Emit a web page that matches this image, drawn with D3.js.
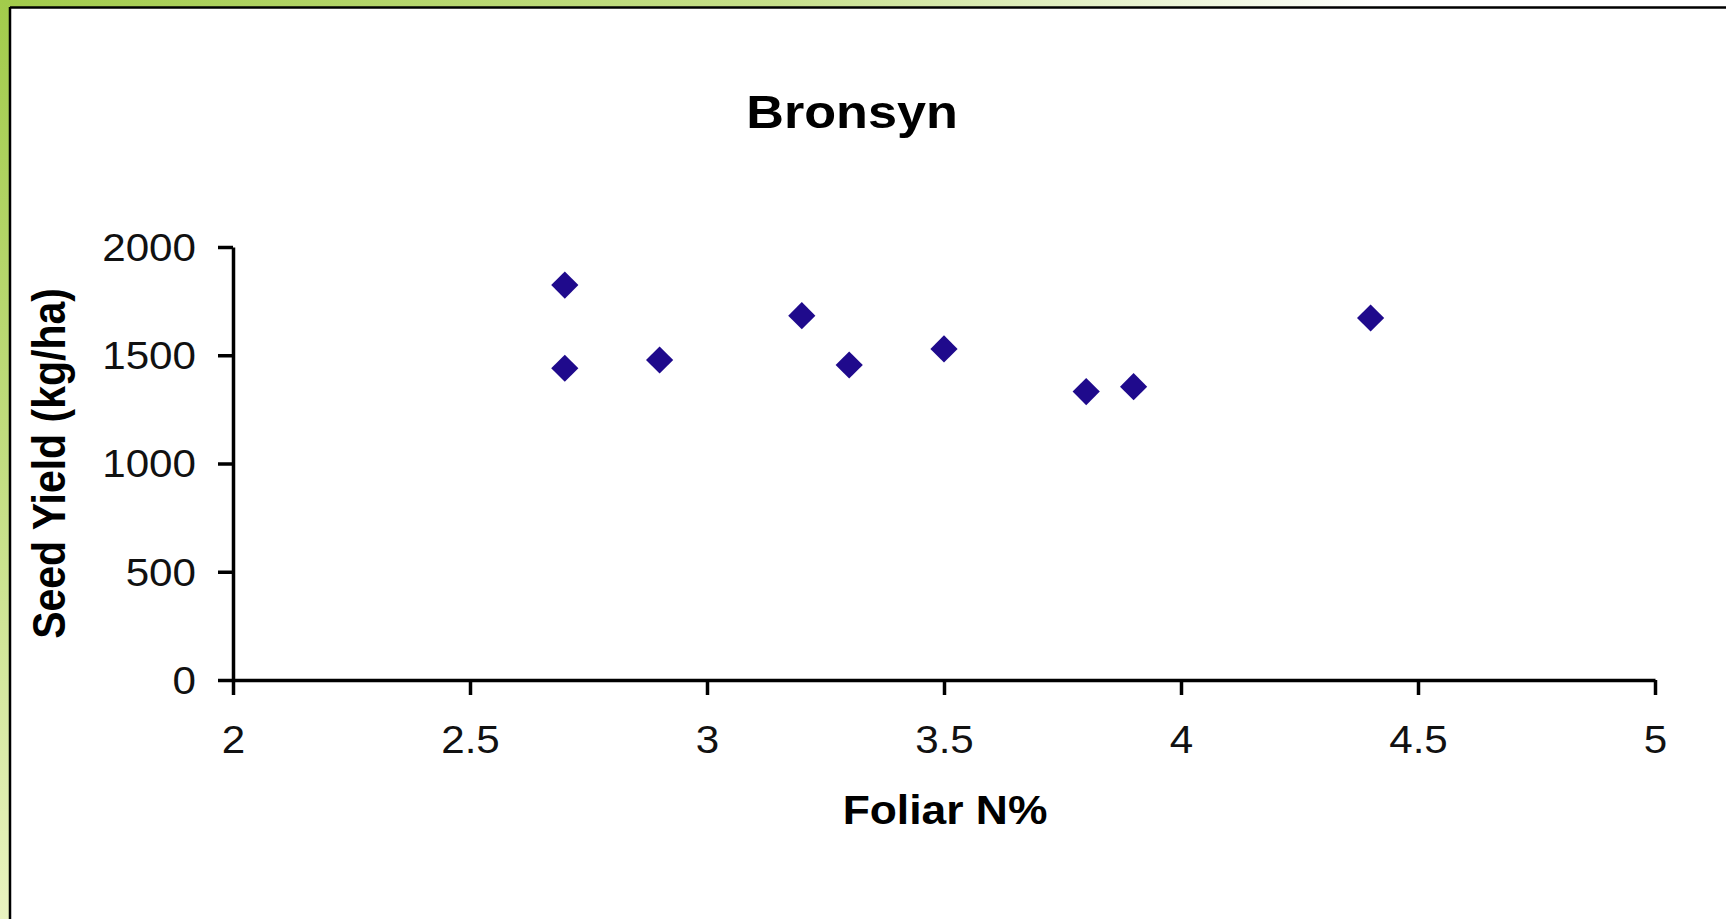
<!DOCTYPE html>
<html>
<head>
<meta charset="utf-8">
<script src="https://cdn.jsdelivr.net/npm/d3@7"></script>
<style>
  html, body { margin: 0; padding: 0; background: #fff; }
  svg text { font-family: "Liberation Sans", Arial, sans-serif; fill: #000; }
</style>
</head>
<body>
<div id="chart"></div>
<script>
// Bronsyn: foliar N% vs seed yield
let foliarN   = [2.7, 2.7, 2.9, 3.2, 3.3, 3.5, 3.8, 3.9, 4.4];
let seedYield = [1824, 1440, 1478, 1683, 1455, 1529, 1332, 1355, 1672];
let xTicks = [2, 2.5, 3, 3.5, 4, 4.5, 5];
let yTicks = [0, 500, 1000, 1500, 2000];

let W = 1726, H = 919;
let plot = {left: 233, right: 1655, top: 247, bottom: 680};
let stretch = 1.11;   // the original picture is a bit wider than tall

let svg = d3.select('#chart').append('svg')
    .attr('width', W)
    .attr('height', H);

let defs = svg.append('defs');
let gTop = defs.append('linearGradient').attr('id', 'topBand')
    .attr('x1', 0).attr('x2', 1).attr('y1', 0).attr('y2', 0);
gTop.append('stop').attr('offset', '0%').attr('stop-color', '#a2cb4b');
gTop.append('stop').attr('offset', '45%').attr('stop-color', '#c6df8a');
gTop.append('stop').attr('offset', '80%').attr('stop-color', '#ffffff');
let gLeft = defs.append('linearGradient').attr('id', 'leftBand')
    .attr('x1', 0).attr('x2', 0).attr('y1', 0).attr('y2', 1);
gLeft.append('stop').attr('offset', '0%').attr('stop-color', '#a2cb4b');
gLeft.append('stop').attr('offset', '50%').attr('stop-color', '#c2dd80');
gLeft.append('stop').attr('offset', '100%').attr('stop-color', '#e9f3c0');

// frame of the slide
svg.append('rect').attr('x', 0).attr('y', 0).attr('width', W).attr('height', 8).style('fill', 'url(#topBand)');
svg.append('rect').attr('x', 0).attr('y', 0).attr('width', 10).attr('height', H).style('fill', 'url(#leftBand)');
svg.append('line').attr('x1', 10).attr('x2', W).attr('y1', 7.5).attr('y2', 7.5)
    .style('stroke', '#000').style('stroke-width', 2.5);
svg.append('line').attr('x1', 10).attr('x2', 10).attr('y1', 7).attr('y2', H)
    .style('stroke', '#000').style('stroke-width', 2.5);

let xScale = d3.scaleLinear().domain([2, 5]).range([plot.left, plot.right]);
let yScale = d3.scaleLinear().domain([0, 2000]).range([plot.bottom, plot.top]);

let xAxis = d3.axisBottom(xScale).tickValues(xTicks).tickSize(15).tickSizeOuter(0)
    .tickPadding(40).tickFormat(d => String(d));
let yAxis = d3.axisLeft(yScale).tickValues(yTicks).tickSize(15).tickSizeOuter(0)
    .tickPadding(22).tickFormat(d => String(d));

let gx = svg.append('g')
    .attr('class', 'x-axis')
    .attr('transform', `translate(0,${plot.bottom})`)
    .call(xAxis);
let gy = svg.append('g')
    .attr('class', 'y-axis')
    .attr('transform', `translate(${plot.left},0)`)
    .call(yAxis);

[gx, gy].forEach(g => {
    g.select('.domain').style('stroke', '#000').style('stroke-width', 3.5);
    g.selectAll('.tick line').style('stroke', '#000').style('stroke-width', 3.5);
    g.selectAll('.tick text')
        .style('font-size', '38px')
        .style('font-family', '"Liberation Sans", Arial, sans-serif')
        .style('fill', '#111');
});
gx.selectAll('.tick text').attr('dy', 0).attr('y', 73)
    .attr('transform', `scale(${stretch},1)`);
gy.selectAll('.tick text').attr('dy', '0.35em').attr('x', -37 / stretch)
    .attr('transform', `scale(${stretch},1)`);

// title and axis titles
svg.append('text')
    .attr('transform', `translate(852,128) scale(${stretch},1)`)
    .attr('text-anchor', 'middle')
    .style('font-size', '47px')
    .style('font-weight', 'bold')
    .text('Bronsyn');

svg.append('text')
    .attr('transform', `translate(945,824) scale(${stretch},1)`)
    .attr('text-anchor', 'middle')
    .style('font-size', '40px')
    .style('font-weight', 'bold')
    .text('Foliar N%');

svg.append('text')
    .attr('transform', `translate(65,${(plot.top + plot.bottom) / 2}) scale(${stretch},1) rotate(-90)`)
    .attr('text-anchor', 'middle')
    .style('font-size', '41px')
    .style('font-weight', 'bold')
    .text('Seed Yield (kg/ha)');

// points
let points = foliarN.map((x, i) => ({x: x, y: seedYield[i]}));
let diamond = d3.symbol().type(d3.symbolSquare).size(370);

svg.append('g')
    .attr('class', 'body')
    .selectAll('path.point')
    .data(points)
    .enter()
    .append('path')
    .attr('class', 'point')
    .attr('d', diamond)
    .attr('transform', d => `translate(${xScale(d.x)},${yScale(d.y)}) rotate(45)`)
    .style('fill', '#1f0a8c');
</script>
</body>
</html>
